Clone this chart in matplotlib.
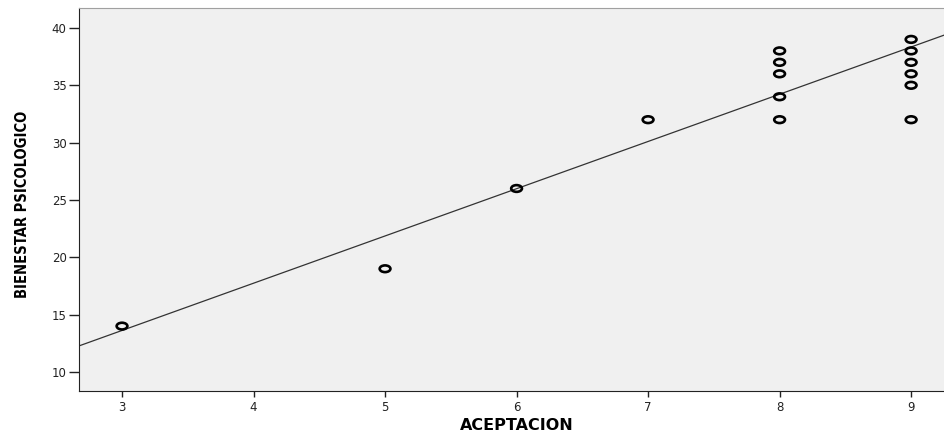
import numpy as np
import matplotlib
matplotlib.use("Agg")
import matplotlib.pyplot as plt
from matplotlib.path import Path
from matplotlib.transforms import Affine2D

# datos
aceptacion = [3, 5, 6, 7, 8, 8, 8, 8, 8, 9, 9, 9, 9, 9, 9]
bienestar = [14, 19, 26, 32, 32, 34, 36, 37, 38, 32, 35, 36, 37, 38, 39]
# recta de ajuste
pendiente = 4.12
intercepto = 1.26

plt.rcParams['font.family'] = ['DejaVu Sans']

fig = plt.figure(figsize=(9.44, 4.32), dpi=100)
ax = fig.add_axes([0.0837, 0.0949, 0.9163, 0.8866])
ax.set_facecolor('#f0f0f0')

# marcador ovalado como en SPSS
ovalo = Path.unit_circle().transformed(Affine2D().scale(1.6, 1.0))
ax.scatter(aceptacion, bienestar, marker=ovalo, s=60, facecolors='none',
           edgecolors='black', linewidths=1.9, zorder=3)

x0, x1 = 2.673, 9.25
xs = np.array([x0, x1])
ax.plot(xs, intercepto + pendiente * xs, color='#333333', lw=0.9, zorder=2)

ax.set_xlim(x0, x1)
ax.set_ylim(8.34, 41.74)
ax.set_xticks([3, 4, 5, 6, 7, 8, 9])
ax.set_yticks([10, 15, 20, 25, 30, 35, 40])

ax.spines['right'].set_visible(False)
ax.spines['top'].set_color('#a0a0a0')
ax.spines['left'].set_color('#222222')
ax.spines['bottom'].set_color('#222222')
ax.tick_params(direction='out', width=1, labelsize=8.5, colors='#222222')
ax.tick_params(axis='y', length=7, pad=2)
ax.tick_params(axis='x', length=4, pad=3)

ax.set_xlabel('ACEPTACION', fontsize=11.5, fontweight='bold', va='top')
ax.xaxis.set_label_coords(0.506, -0.07)
ax.set_ylabel('BIENESTAR PSICOLOGICO', fontsize=10.5, fontweight='bold',
              fontstretch='condensed', va='center')
ax.yaxis.set_label_coords(-0.065, 0.486)

fig.savefig('out.png', dpi=100)
